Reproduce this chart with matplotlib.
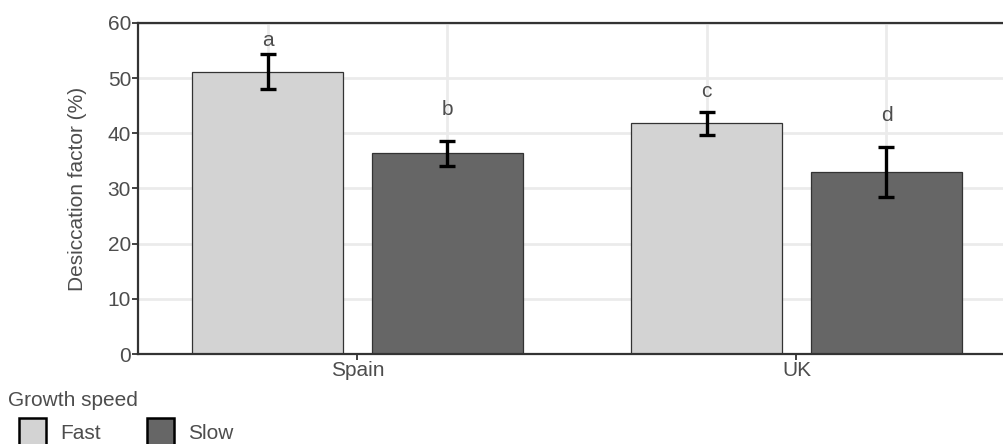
import matplotlib.pyplot as plt
import numpy as np
from matplotlib.patches import Rectangle

plt.rcParams['font.family'] = ['Liberation Sans', 'DejaVu Sans']

# Desiccation factor by site and growth speed
sites = ['Spain', 'UK']
speeds = ['Fast', 'Slow']
colors = ['#d3d3d3', '#666666']
means = [[51.2, 41.8], [36.4, 33.0]]
errs = [[3.2, 2.15], [2.3, 4.55]]
letters = [['a', 'c'], ['b', 'd']]
letter_y = [[56.9, 47.5], [44.4, 43.3]]

fs = 15
fig = plt.figure(figsize=(10.04, 4.44), dpi=100)
ax = fig.add_axes([138 / 1004, 90 / 444, 1 - 138 / 1004, 331 / 444])

x = np.arange(1, len(sites) + 1)
width = 0.342
offset = 0.205
dark = '#333333'

for i, speed in enumerate(speeds):
    xs = x + (i * 2 - 1) * offset
    ax.bar(xs, means[i], width=width, color=colors[i], edgecolor=dark,
           linewidth=0.9, zorder=2)
    ax.errorbar(xs, means[i], yerr=errs[i], fmt='none', ecolor='black',
                elinewidth=2.4, capsize=5.5, capthick=2.4, zorder=3)
    for xx, lab, ly in zip(xs, letters[i], letter_y[i]):
        ax.text(xx, ly, lab, ha='center', va='center', fontsize=fs,
                color='#4d4d4d', zorder=4)
    for xx in xs:
        ax.axvline(xx, color='#ebebeb', linewidth=2, zorder=0)

ax.set_xlim(0.5, 0.5 + 866 / 439)
ax.set_ylim(0, 60)
ax.set_yticks(np.arange(0, 61, 10))
ax.set_xticks(x)
ax.set_xticklabels(sites)
ax.yaxis.grid(True, color='#ebebeb', linewidth=2, zorder=0)
ax.set_axisbelow(True)

for side in ['left', 'bottom', 'top']:
    ax.spines[side].set_color(dark)
    ax.spines[side].set_linewidth(1.6)
ax.spines['right'].set_visible(False)
ax.tick_params(colors=dark, labelcolor='#4d4d4d', labelsize=fs,
               length=4, width=1.3, pad=1)
ax.set_ylabel('Desiccation factor (%)', fontsize=fs, color='#4d4d4d',
              labelpad=15)

# legend drawn along the bottom edge
fig.text(8 / 1004, 1 - 400 / 444, 'Growth speed', fontsize=fs,
         color='#4d4d4d', va='center', ha='left')
for i, speed in enumerate(speeds):
    x0 = 19 + i * 128
    fig.patches.append(Rectangle((x0 / 1004, 1 - 446 / 444), 27 / 1004, 28 / 444,
                                 transform=fig.transFigure, facecolor=colors[i],
                                 edgecolor='black', linewidth=1.8))
    fig.text((x0 + 41) / 1004, 1 - 433 / 444, speed, fontsize=fs,
             color='#4d4d4d', va='center', ha='left')

fig.savefig('out.png', dpi=100)
